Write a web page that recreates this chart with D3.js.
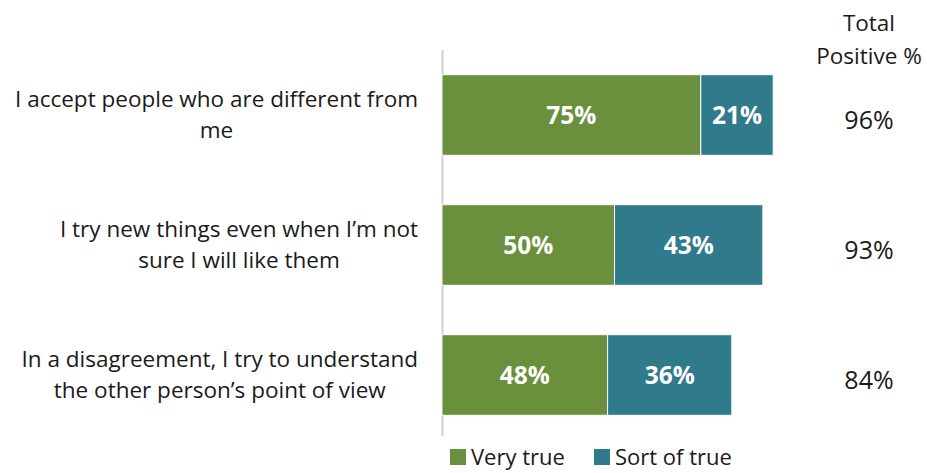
<!DOCTYPE html>
<html>
<head>
<meta charset="utf-8">
<script src="https://cdn.jsdelivr.net/npm/d3@7"></script>
<style>
  body { margin: 0; background: #fff; }
  svg { font-family: "Open Sans", "Noto Sans", sans-serif; }
</style>
</head>
<body>
<svg id="chart" width="927" height="473"></svg>
<script>
// === Data ===
const statements = [
  ["I accept people who are different from", "me"],
  ["I try new things even when I\u2019m not", "sure I will like them"],
  ["In a disagreement, I try to understand", "the other person\u2019s point of view"]
];
const veryTrue = [75, 50, 48];
const sortOfTrue = [21, 43, 36];
const totalPositive = [96, 93, 84];
const seriesNames = ["Very true", "Sort of true"];
const seriesColors = ["#6a8f3d", "#2f7a8b"];

const svg = d3.select("#chart");

const x = d3.scaleLinear().domain([0, 100]).range([442, 787]);
const y = d3.scaleBand().domain(d3.range(statements.length))
  .range([50, 440]).paddingInner(0.38).paddingOuter(0.19);

// vertical axis line
svg.append("line")
  .attr("x1", 442.5).attr("x2", 442.5)
  .attr("y1", 50).attr("y2", 436)
  .attr("stroke", "#d0d0d0").attr("stroke-width", 2);

// stacked bars
const rows = svg.selectAll("g.row")
  .data(statements.map((s, i) => ({ i, parts: [veryTrue[i], sortOfTrue[i]] })))
  .enter().append("g").attr("class", "row");

rows.each(function (d) {
  const g = d3.select(this);
  let start = 0;
  d.parts.forEach((v, k) => {
    g.append("rect")
      .attr("x", x(start))
      .attr("y", y(d.i))
      .attr("width", x(start + v) - x(start))
      .attr("height", y.bandwidth())
      .attr("fill", seriesColors[k])
      .attr("stroke", "#fff").attr("stroke-width", 1);
    g.append("text")
      .attr("x", (x(start) + x(start + v)) / 2)
      .attr("y", y(d.i) + y.bandwidth() / 2)
      .attr("dy", "0.35em")
      .attr("text-anchor", "middle")
      .attr("fill", "#fff")
      .attr("font-weight", "bold")
      .attr("font-size", 24.5)
      .text(v + "%");
    start += v;
  });
});

// category labels: block right-aligned at 418, lines centred inside block
statements.forEach((lines, i) => {
  const g = svg.append("g");
  const cy = y(i) + y.bandwidth() / 2;
  const texts = lines.map((ln, j) => g.append("text")
    .attr("y", cy + (j - (lines.length - 1) / 2) * 31)
    .attr("dy", "0.35em")
    .attr("text-anchor", "middle")
    .attr("font-size", 22.5)
    .attr("fill", "#1a1a1a")
    .text(ln));
  const maxW = d3.max(texts, t => t.node().getComputedTextLength());
  texts.forEach(t => t.attr("x", 418 - maxW / 2));
});

// total positive column
svg.append("text").attr("x", 869).attr("y", 31).attr("text-anchor", "middle")
  .attr("font-size", 22.5).attr("fill", "#1a1a1a").text("Total");
svg.append("text").attr("x", 869).attr("y", 64).attr("text-anchor", "middle")
  .attr("font-size", 22.5).attr("fill", "#1a1a1a").text("Positive %");
totalPositive.forEach((v, i) => {
  svg.append("text")
    .attr("x", 869)
    .attr("y", y(i) + y.bandwidth() / 2 + 5)
    .attr("dy", "0.35em")
    .attr("text-anchor", "middle")
    .attr("font-size", 25)
    .attr("fill", "#1a1a1a")
    .text(v + "%");
});

// legend
const legendX = [450, 594];
seriesNames.forEach((name, k) => {
  svg.append("rect")
    .attr("x", legendX[k]).attr("y", 449)
    .attr("width", 16).attr("height", 16)
    .attr("fill", seriesColors[k]);
  svg.append("text")
    .attr("x", legendX[k] + 21).attr("y", 457)
    .attr("dy", "0.35em")
    .attr("font-size", 22)
    .attr("fill", "#1a1a1a")
    .text(name);
});
</script>
</body>
</html>
